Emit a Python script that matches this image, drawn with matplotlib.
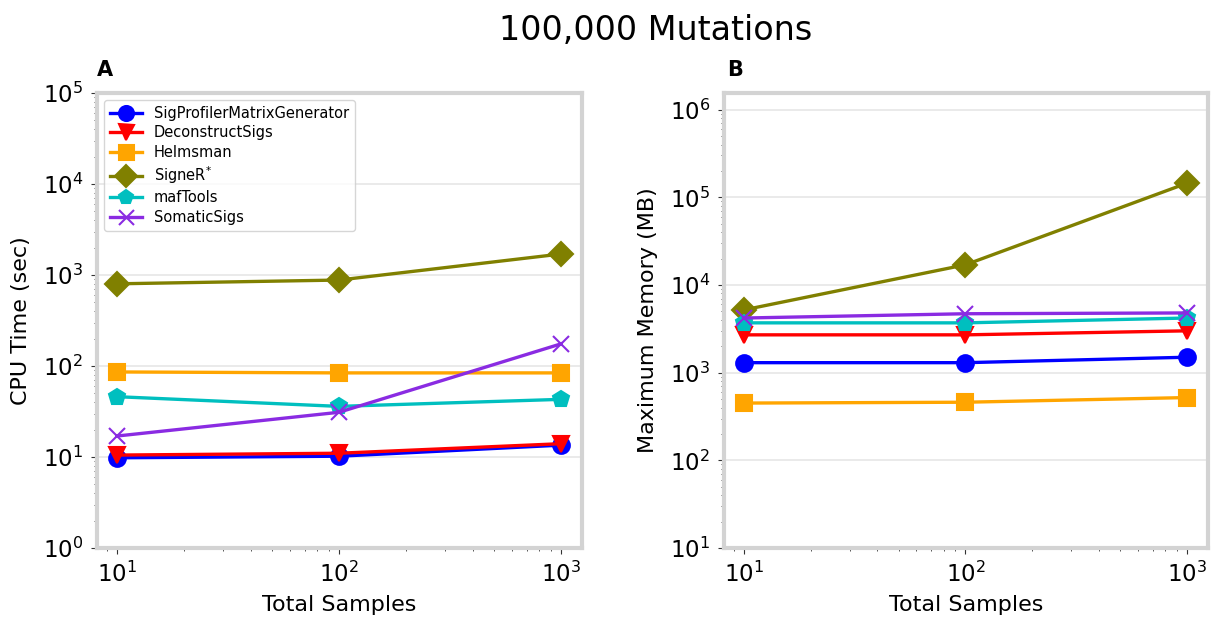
import matplotlib
matplotlib.use("Agg")
from matplotlib import pyplot as plt
from matplotlib.ticker import LogLocator, NullFormatter

samples = [10, 100, 1000]
tools = ["SigProfilerMatrixGenerator", "DeconstructSigs", "Helmsman",
         "SigneR$^{*}$", "mafTools", "SomaticSigs"]
colors = ["blue", "red", "orange", "olive", "c", "blueviolet"]
markers = ["o", "v", "s", "D", "p", "x"]

# CPU time (sec)
cpu_time = [
    [9.8, 10.2, 13.5],
    [10.5, 11.0, 14.0],
    [86, 84, 84],
    [800, 880, 1700],
    [46, 36, 43],
    [17, 31, 175],
]
# Maximum memory (MB)
max_memory = [
    [1300, 1300, 1500],
    [2700, 2700, 3000],
    [450, 460, 520],
    [5200, 17000, 145000],
    [3700, 3700, 4200],
    [4200, 4700, 4800],
]

fig = plt.figure(figsize=(12.11, 6.17), dpi=100)
ax_a = fig.add_axes([97 / 1211, 1 - 548 / 617, 485 / 1211, 455 / 617])
ax_b = fig.add_axes([724 / 1211, 1 - 548 / 617, 484 / 1211, 455 / 617])

for ax, data, ylabel, ylim in [
    (ax_a, cpu_time, "CPU Time (sec)", (1, 1e5)),
    (ax_b, max_memory, "Maximum Memory (MB)", (10, 10 ** 6.19)),
]:
    for name, vals, c, m in zip(tools, data, colors, markers):
        ax.plot(samples, vals, color=c, marker=m, markersize=12, linewidth=2.4,
                markeredgewidth=1.5, label=name)
    ax.set_xscale("log")
    ax.set_yscale("log")
    ax.set_xlim(10 ** 0.91, 10 ** 3.095)
    ax.set_ylim(*ylim)
    ax.yaxis.set_major_locator(LogLocator(base=10, numticks=10))
    ax.yaxis.set_minor_locator(LogLocator(base=10, subs=range(2, 10), numticks=20))
    ax.yaxis.set_minor_formatter(NullFormatter())
    ax.grid(axis="y", which="major", color="#e6e6e6", linewidth=1.2)
    ax.set_axisbelow(True)
    for s in ax.spines.values():
        s.set_color("#d3d3d3")
        s.set_linewidth(3)
    ax.tick_params(axis="both", which="major", labelsize=16.5, length=4,
                   color="#333333", pad=6)
    ax.tick_params(axis="both", which="minor", length=2, color="#333333")
    ax.set_xlabel("Total Samples", fontsize=16, labelpad=6)
    ax.set_ylabel(ylabel, fontsize=16, labelpad=8)

ax_a.legend(loc="upper left", fontsize=10.5, frameon=True, fancybox=True,
            edgecolor="#cccccc", borderaxespad=0.5, handlelength=2.2,
            labelspacing=0.3, markerscale=0.9)

fig.text(97 / 1211, 1 - 70 / 617, "A", fontsize=15, fontweight="bold", va="center")
fig.text(727 / 1211, 1 - 70 / 617, "B", fontsize=15, fontweight="bold", va="center")
fig.text(656 / 1211, 1 - 30 / 617, "100,000 Mutations", fontsize=24,
         ha="center", va="center")

fig.savefig("out.png", dpi=100)
